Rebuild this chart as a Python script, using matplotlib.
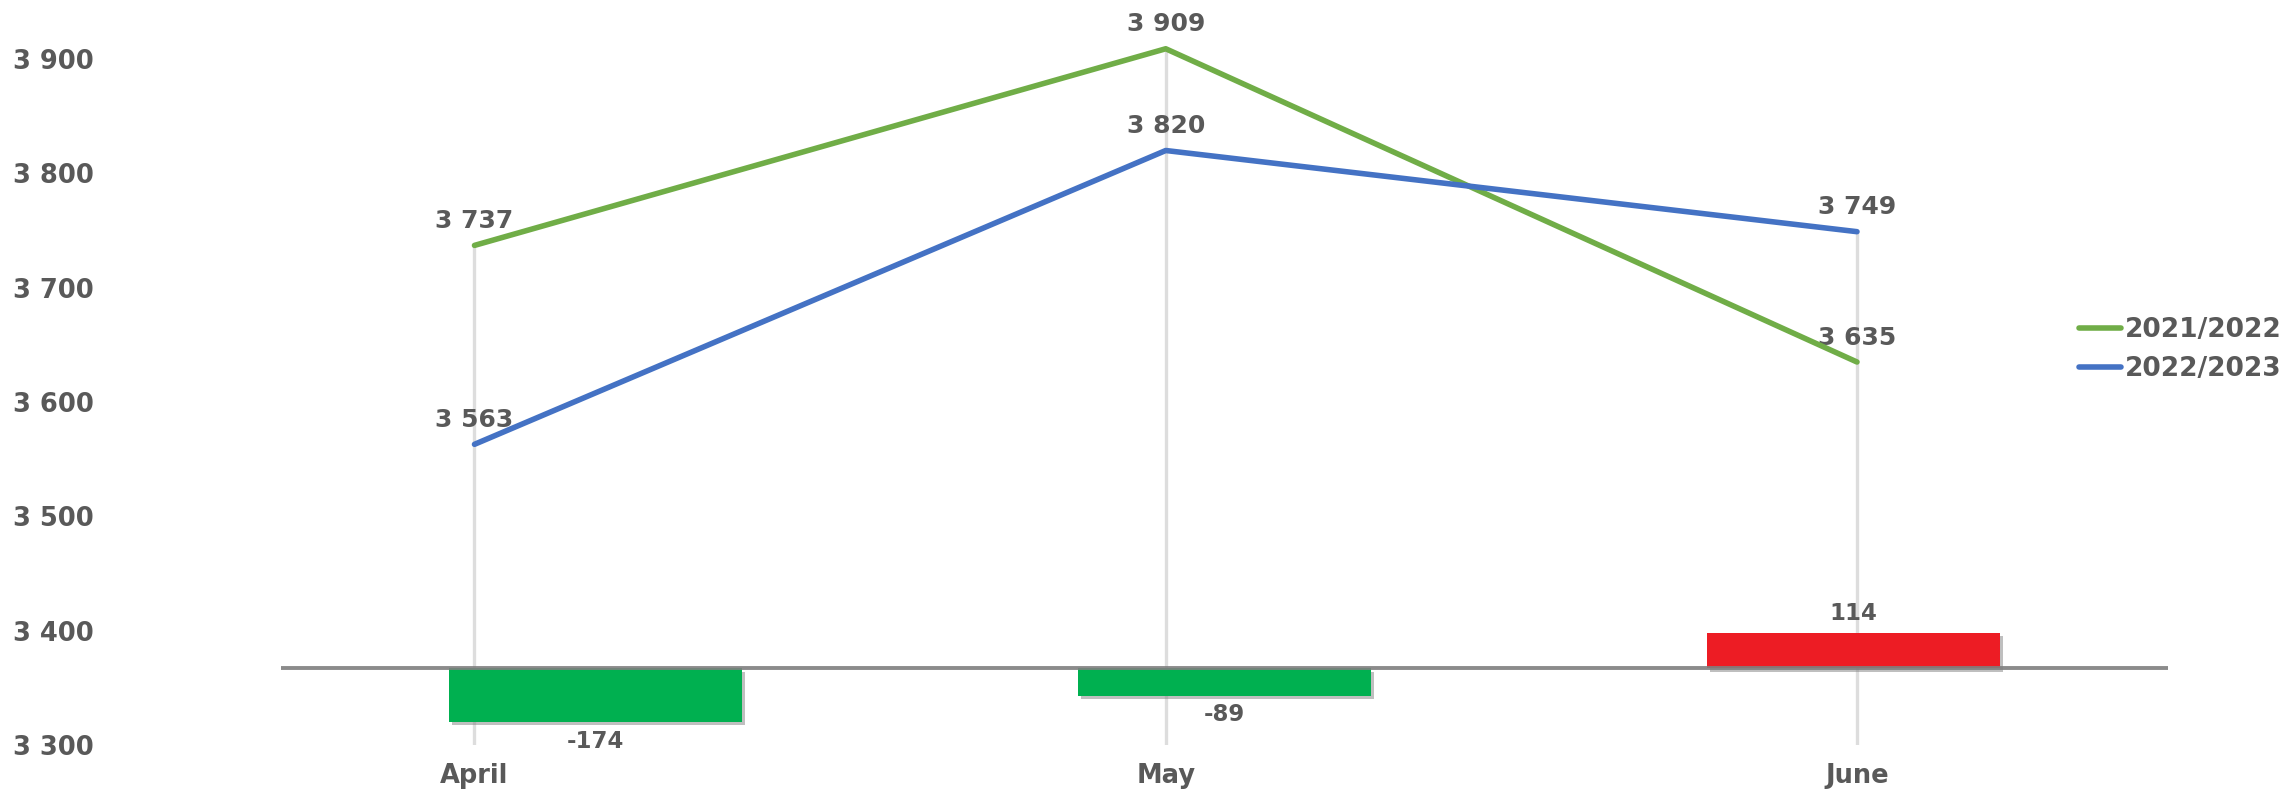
import matplotlib
matplotlib.use("Agg")
import matplotlib.pyplot as plt
import matplotlib.patheffects as pe

# data
months = ["April", "May", "June"]
season_2122 = [3737, 3909, 3635]
season_2223 = [3563, 3820, 3749]
diff = [-174, -89, 114]
yticks = [3300, 3400, 3500, 3600, 3700, 3800, 3900]

GREEN = "#70AD47"
BLUE = "#4472C4"
TXT = "#595959"

plt.rcParams["font.family"] = ["DejaVu Sans"]
plt.rcParams["font.weight"] = "bold"

fig = plt.figure(figsize=(22.92, 7.95), dpi=100)
rect = [281 / 2292, 50 / 795, 1887 / 2292, 735 / 795]
ax = fig.add_axes(rect)
ax2 = fig.add_axes(rect, frameon=False)

x = list(range(len(months)))

# lines axis below, bars axis on top (bars hide the drop lines)
ax.set_zorder(0)
ax2.set_zorder(1)
ax2.patch.set_visible(False)

bars = ax2.bar(x, diff, width=0.466,
               color=["#00B050" if d < 0 else "#ED1C24" for d in diff],
               zorder=2)
for b in bars:
    b.set_path_effects([pe.SimplePatchShadow(offset=(2, -2.5), shadow_rgbFace="#808080", alpha=0.5),
                        pe.Normal()])
ax2.axhline(0, color="#7F7F7F", lw=2.8, alpha=0.9, zorder=3)
for xi, d in zip(x, diff):
    off = 14 if d > 0 else -14
    ax2.annotate(f"{d}", (xi, d), xytext=(0, off), textcoords="offset points",
                 ha="center", va="center", fontsize=16.5, color=TXT, fontweight="bold")
ax2.set_xlim(-0.5, 2.5)
ax2.set_ylim(-249, 2129)
ax2.set_xticks([])
ax2.set_yticks([])

# primary: drop lines + lines
top = [max(a, b) for a, b in zip(season_2122, season_2223)]
ax.vlines(x, 3300, top, color="#DDDDDD", lw=2.4, zorder=1)
ax.plot(x, season_2122, color=GREEN, lw=4, solid_capstyle="round", label="2021/2022", zorder=4)
ax.plot(x, season_2223, color=BLUE, lw=4, solid_capstyle="round", label="2022/2023", zorder=4)


def fmt(v):
    return f"{v:,}".replace(",", " ")


for series in (season_2122, season_2223):
    for xi, v in zip(x, series):
        ax.annotate(fmt(v), (xi, v), xytext=(0, 17.5), textcoords="offset points",
                    ha="center", va="center", fontsize=18, color=TXT, fontweight="bold")

ax.set_xlim(-0.2799, 2.4499)
ax.set_ylim(3300, 3942.9)
ax.set_xticks(x)
ax.set_xticklabels(months)
ax.set_yticks(yticks)
ax.set_yticklabels([fmt(v) for v in yticks])
ax.tick_params(axis="y", length=0, pad=135, labelsize=18.5, labelcolor=TXT)
ax.tick_params(axis="x", length=0, pad=13, labelsize=18.5, labelcolor=TXT)
for s in ax.spines.values():
    s.set_visible(False)

leg = ax.legend(loc="center left", bbox_to_anchor=(2079 / 2292, 445.5 / 795),
                bbox_transform=fig.transFigure, frameon=False, fontsize=19,
                handlelength=1.6, handletextpad=0.15, labelspacing=0.5,
                borderpad=0, borderaxespad=0)
for h in leg.get_lines():
    h.set_linewidth(4)
for t in leg.get_texts():
    t.set_color(TXT)

fig.savefig("out.png", dpi=100)
